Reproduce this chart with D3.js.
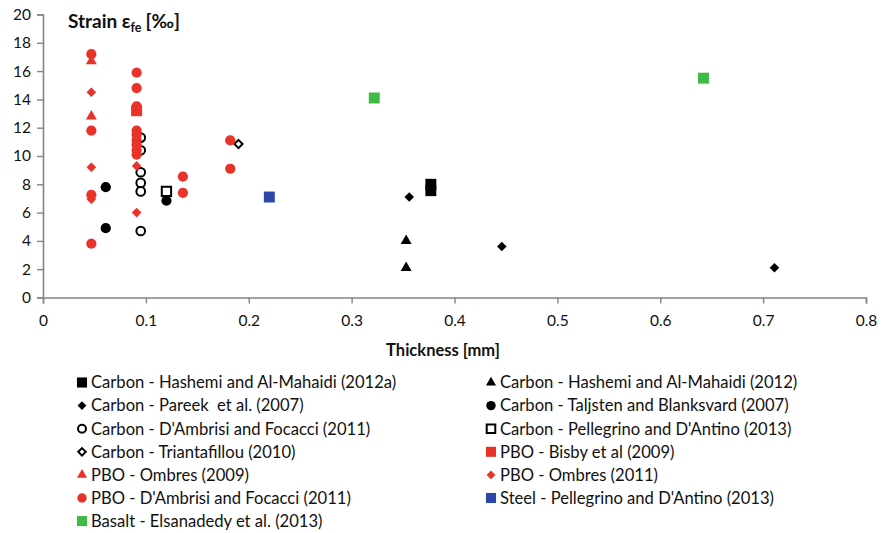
<!DOCTYPE html>
<html>
<head>
<meta charset="utf-8">
<script src="https://cdn.jsdelivr.net/npm/d3@7"></script>
<style>
  html, body { margin: 0; padding: 0; background: #fff; }
  svg { display: block; font-family: Lato, "Open Sans", sans-serif; }
</style>
</head>
<body>
<svg id="chart" width="884" height="533"></svg>
<script>
// Axis ticks
const xTicks = [0, 0.1, 0.2, 0.3, 0.4, 0.5, 0.6, 0.7, 0.8];
const yTicks = [0, 2, 4, 6, 8, 10, 12, 14, 16, 18, 20];

// Series: [thickness mm, strain ‰]
const hashemi2012a = [[0.377, 8.0], [0.377, 7.55]];
const hashemi2012 = [[0.353, 4.0], [0.353, 2.1]];
const pareek2007 = [[0.356, 7.1], [0.446, 3.6], [0.711, 2.1]];
const taljsten2007 = [[0.061, 7.8], [0.061, 4.9], [0.12, 6.85]];
const dambrisiCarbon = [[0.095, 11.3], [0.095, 10.4], [0.095, 8.85], [0.095, 8.1], [0.095, 7.5], [0.095, 4.7]];
const pellegrinoCarbon = [[0.12, 7.5]];
const triantafillou2010 = [[0.19, 10.85]];
const bisby2009 = [[0.091, 13.2]];
const ombres2009 = [[0.047, 16.7], [0.047, 12.8]];
const ombres2011 = [[0.047, 14.5], [0.047, 9.2], [0.047, 6.95], [0.091, 9.3], [0.091, 6.0]];
const dambrisiPBO = [[0.047, 17.2], [0.047, 11.8], [0.047, 7.25], [0.047, 3.8],
  [0.091, 15.9], [0.091, 14.8], [0.091, 13.5], [0.091, 13.3], [0.091, 11.8], [0.091, 11.5],
  [0.091, 11.1], [0.091, 10.8], [0.091, 10.4], [0.091, 10.1],
  [0.136, 8.55], [0.136, 7.4], [0.182, 11.1], [0.182, 9.1]];
const pellegrinoSteel = [[0.22, 7.1]];
const elsanadedy2013 = [[0.322, 14.1], [0.642, 15.5]];

const RED = "#e8322a", GREEN = "#3dbb45", BLUE = "#2c47a8", BLACK = "#000";

// Legend entries in reading order (left column, right column alternating)
const series = [
  { name: "Carbon - Hashemi and Al-Mahaidi (2012a)", data: hashemi2012a, shape: "square", color: BLACK, fill: true },
  { name: "Carbon - Hashemi and Al-Mahaidi (2012)", data: hashemi2012, shape: "triangle", color: BLACK, fill: true },
  { name: "Carbon - Pareek  et al. (2007)", data: pareek2007, shape: "diamond", color: BLACK, fill: true },
  { name: "Carbon - Taljsten and Blanksvard (2007)", data: taljsten2007, shape: "circle", color: BLACK, fill: true },
  { name: "Carbon - D'Ambrisi and Focacci (2011)", data: dambrisiCarbon, shape: "circle", color: BLACK, fill: false },
  { name: "Carbon - Pellegrino and D'Antino (2013)", data: pellegrinoCarbon, shape: "square", color: BLACK, fill: false },
  { name: "Carbon - Triantafillou (2010)", data: triantafillou2010, shape: "diamond", color: BLACK, fill: false },
  { name: "PBO - Bisby et al (2009)", data: bisby2009, shape: "square", color: RED, fill: true },
  { name: "PBO - Ombres (2009)", data: ombres2009, shape: "triangle", color: RED, fill: true },
  { name: "PBO - Ombres (2011)", data: ombres2011, shape: "diamond", color: RED, fill: true },
  { name: "PBO - D'Ambrisi and Focacci (2011)", data: dambrisiPBO, shape: "circle", color: RED, fill: true },
  { name: "Steel - Pellegrino and D'Antino (2013)", data: pellegrinoSteel, shape: "square", color: BLUE, fill: true },
  { name: "Basalt - Elsanadedy et al. (2013)", data: elsanadedy2013, shape: "square", color: GREEN, fill: true }
];

const svg = d3.select("#chart");
const plot = { left: 43, right: 866, top: 14.5, bottom: 297.5 };

const x = d3.scaleLinear().domain([0, 0.8]).range([plot.left, plot.right]);
const y = d3.scaleLinear().domain([0, 20]).range([plot.bottom, plot.top]);

const AXIS = "#858585";

// Y axis
const yAxis = svg.append("g")
  .attr("transform", `translate(${plot.left},0)`)
  .call(d3.axisLeft(y).tickValues(yTicks).tickSize(6).tickPadding(6).tickFormat(d3.format("d")));
// X axis
const xAxis = svg.append("g")
  .attr("transform", `translate(0,${plot.bottom})`)
  .call(d3.axisBottom(x).tickValues(xTicks).tickSize(6).tickPadding(11)
    .tickFormat(d => d === 0 ? "0" : d3.format(".1f")(d)));

[xAxis, yAxis].forEach(g => {
  g.select(".domain").attr("stroke", AXIS).attr("stroke-width", 1.6);
  g.selectAll(".tick line").attr("stroke", AXIS).attr("stroke-width", 1.4);
  g.selectAll(".tick text").attr("fill", "#111").style("font-size", "15.5px")
    .style("font-family", "Lato, 'Open Sans', sans-serif");
});

// Axis titles
svg.append("text")
  .attr("x", 443).attr("y", 356)
  .attr("text-anchor", "middle")
  .style("font-size", "16.5px").style("font-weight", "bold").attr("fill", "#111")
  .text("Thickness [mm]");

const yTitle = svg.append("text")
  .attr("x", 68).attr("y", 28)
  .style("font-size", "19px").style("font-weight", "bold").attr("fill", "#111");
yTitle.append("tspan").text("Strain ε");
yTitle.append("tspan").attr("dy", 4).style("font-size", "12.5px").text("fe");
yTitle.append("tspan").attr("dy", -4).attr("dx", 4).text("[‰]");

// Marker path generator
function markerPath(shape, scale) {
  const s = scale || 1;
  switch (shape) {
    case "square": return d3.symbol(d3.symbolSquare, 120 * s * s)();
    case "triangle": return d3.symbol(d3.symbolTriangle, 52 * s * s)();
    case "diamond": return d3.symbol(d3.symbolSquare, 46 * s * s)();
    default: return d3.symbol(d3.symbolCircle, 82 * s * s)();
  }
}
function drawMarker(g, shape, color, fill, cx, cy, scale) {
  const p = g.append("path")
    .attr("d", markerPath(shape, fill ? scale : (scale || 1) * 0.85))
    .attr("transform", `translate(${cx},${cy})` + (shape === "diamond" ? " rotate(45)" : ""));
  if (fill) p.attr("fill", color);
  else p.attr("fill", "#fff").attr("stroke", color).attr("stroke-width", 2);
}

// Points
const pts = svg.append("g");
series.forEach(s => {
  s.data.forEach(d => drawMarker(pts, s.shape, s.color, s.fill, x(d[0]), y(d[1]), 1));
});

// Legend: two columns
const legend = svg.append("g");
const colX = [82, 491];
const rowY0 = 382.5, rowH = 23.1;
series.forEach((s, i) => {
  const col = i % 2, row = Math.floor(i / 2);
  const cx = colX[col], cy = rowY0 + row * rowH;
  drawMarker(legend, s.shape, s.color, s.fill, cx, cy, 0.92);
  legend.append("text")
    .attr("x", cx + 9).attr("y", cy + 5.8)
    .style("font-size", "16.6px").style("white-space", "pre").attr("fill", "#111")
    .text(s.name);
});
</script>
</body>
</html>
